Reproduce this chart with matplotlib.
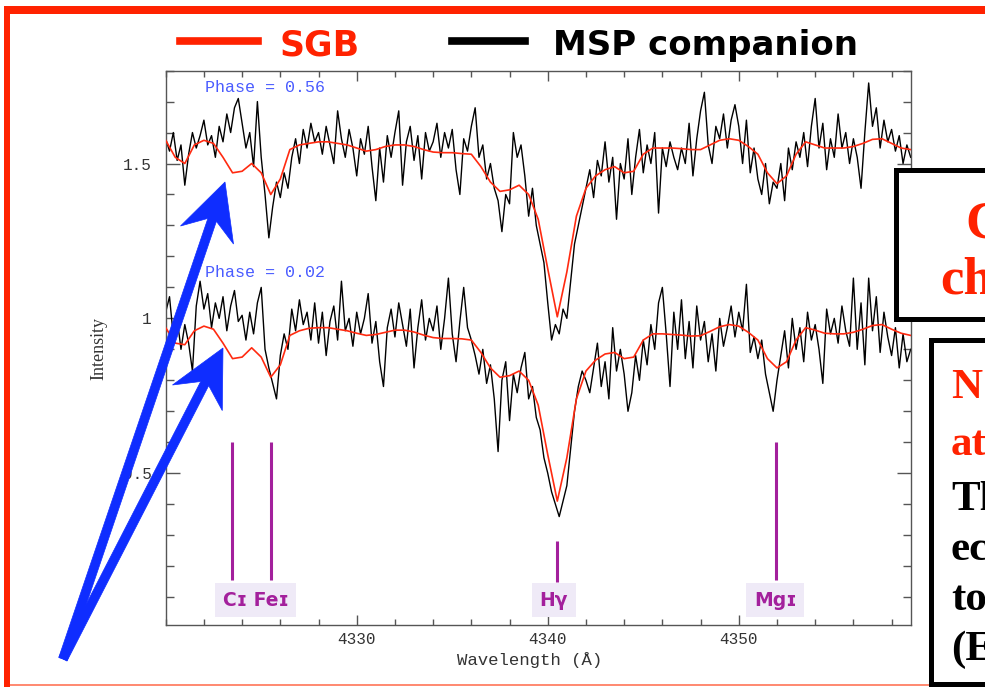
import numpy as np
import matplotlib
matplotlib.use("Agg")
import matplotlib.pyplot as plt
from matplotlib.patches import Rectangle, Polygon
from matplotlib.ticker import MultipleLocator, FixedLocator

W, H = 985, 687

# ---------------- data ----------------
# observed MSP companion spectra, sampled every 0.2 A from 4320.0 to 4359.0
wave_obs = np.round(np.arange(4320.0, 4359.01, 0.2), 1)

msp_phase056 = [
    1.58, 1.54, 1.60, 1.51, 1.56, 1.43, 1.53, 1.60, 1.55, 1.59,
    1.64, 1.56, 1.59, 1.52, 1.62, 1.57, 1.66, 1.60, 1.68, 1.71,
    1.63, 1.55, 1.60, 1.49, 1.70, 1.52, 1.40, 1.26, 1.36, 1.44,
    1.39, 1.47, 1.42, 1.52, 1.58, 1.50, 1.61, 1.55, 1.63, 1.57,
    1.60, 1.53, 1.62, 1.56, 1.50, 1.67, 1.58, 1.52, 1.61, 1.55,
    1.46, 1.58, 1.53, 1.62, 1.49, 1.38, 1.55, 1.44, 1.59, 1.52,
    1.60, 1.67, 1.43, 1.57, 1.62, 1.51, 1.59, 1.45, 1.60, 1.54,
    1.57, 1.63, 1.52, 1.60, 1.55, 1.61, 1.48, 1.40, 1.58, 1.54,
    1.62, 1.68, 1.52, 1.56, 1.45, 1.50, 1.42, 1.38, 1.28, 1.40,
    1.37, 1.60, 1.52, 1.56, 1.46, 1.33, 1.42, 1.30, 1.24, 1.18,
    1.05, 0.93, 0.98, 0.95, 1.03, 1.00, 1.12, 1.24, 1.30, 1.36,
    1.42, 1.48, 1.39, 1.51, 1.46, 1.57, 1.44, 1.52, 1.32, 1.50,
    1.45, 1.58, 1.40, 1.52, 1.61, 1.47, 1.56, 1.50, 1.60, 1.34,
    1.55, 1.49, 1.57, 1.52, 1.48, 1.55, 1.50, 1.63, 1.46, 1.58,
    1.67, 1.73, 1.56, 1.50, 1.62, 1.58, 1.66, 1.55, 1.64, 1.69,
    1.62, 1.50, 1.64, 1.47, 1.55, 1.45, 1.40, 1.50, 1.37, 1.44,
    1.42, 1.50, 1.38, 1.55, 1.48, 1.57, 1.52, 1.60, 1.49, 1.62,
    1.71, 1.55, 1.63, 1.48, 1.58, 1.52, 1.66, 1.55, 1.60, 1.50,
    1.58, 1.52, 1.42, 1.60, 1.76, 1.62, 1.68, 1.55, 1.64, 1.57,
    1.61, 1.54, 1.59, 1.50, 1.56, 1.52,
]

msp_phase002 = [
    1.02, 1.07, 0.94, 1.00, 0.90, 0.98, 0.92, 0.83, 1.04, 1.12,
    1.03, 1.08, 0.97, 1.05, 1.00, 1.07, 0.96, 1.04, 1.09, 0.99,
    1.01, 0.93, 1.02, 0.95, 1.05, 1.10, 0.90, 0.84, 0.79, 0.74,
    0.88, 0.95, 0.90, 1.03, 0.96, 1.06, 0.98, 1.02, 0.93, 1.05,
    0.92, 1.02, 0.88, 0.99, 1.04, 0.93, 1.12, 0.96, 1.00, 0.91,
    1.02, 0.95, 1.00, 1.08, 0.92, 0.99, 0.86, 0.78, 0.97, 1.03,
    0.94, 1.05, 0.98, 0.91, 1.03, 0.84, 0.97, 1.06, 0.93, 1.00,
    0.96, 1.04, 0.90, 1.00, 1.13, 0.95, 0.86, 0.99, 1.10, 0.97,
    0.93, 0.88, 0.82, 0.90, 0.79, 0.85, 0.74, 0.57, 0.80, 0.86,
    0.67, 0.82, 0.76, 0.84, 0.89, 0.74, 0.78, 0.68, 0.64, 0.55,
    0.50, 0.44, 0.40, 0.36, 0.41, 0.46, 0.58, 0.70, 0.78, 0.83,
    0.80, 0.76, 0.84, 0.92, 0.78, 0.86, 0.74, 0.97, 0.83, 0.90,
    0.82, 0.70, 0.76, 0.88, 0.80, 0.93, 0.85, 0.98, 0.90, 1.05,
    1.10, 0.95, 0.78, 1.02, 0.90, 1.06, 0.87, 0.99, 0.84, 1.04,
    0.93, 0.99, 0.86, 0.95, 0.83, 1.00, 0.91, 0.97, 1.04, 0.94,
    1.02, 0.96, 1.11, 0.89, 0.94, 0.87, 0.93, 0.82, 0.76, 0.70,
    0.80, 0.88, 0.96, 0.84, 1.00, 0.90, 0.97, 0.86, 1.02, 0.93,
    0.98, 0.90, 0.79, 1.03, 0.95, 1.00, 0.92, 1.04, 0.96, 0.91,
    1.13, 0.90, 1.05, 0.85, 1.13, 0.96, 1.07, 0.89, 1.02, 0.94,
    0.88, 0.97, 0.84, 0.95, 0.86, 0.90,
]

# SGB template spectra, sampled every 0.5 A from 4320.0 to 4359.0
wave_sgb = np.round(np.arange(4320.0, 4359.01, 0.5), 1)

sgb_phase056 = [
    1.575, 1.52, 1.50, 1.56, 1.575, 1.565, 1.52, 1.47, 1.475, 1.50,
    1.47, 1.40, 1.45, 1.545, 1.56, 1.565, 1.57, 1.57, 1.565, 1.56,
    1.55, 1.54, 1.545, 1.555, 1.56, 1.56, 1.555, 1.545, 1.537, 1.535,
    1.535, 1.532, 1.53, 1.49, 1.44, 1.41, 1.415, 1.43, 1.40, 1.32,
    1.16, 1.005, 1.15, 1.33, 1.42, 1.46, 1.48, 1.49, 1.47, 1.475,
    1.53, 1.55, 1.55, 1.55, 1.548, 1.545, 1.545, 1.56, 1.575, 1.58,
    1.575, 1.555, 1.53, 1.47, 1.435, 1.46, 1.53, 1.57, 1.56, 1.55,
    1.55, 1.55, 1.555, 1.565, 1.578, 1.58, 1.565, 1.55, 1.545,
]

sgb_phase002 = [
    0.97, 0.92, 0.915, 0.96, 0.975, 0.965, 0.92, 0.87, 0.875, 0.905,
    0.875, 0.81, 0.85, 0.945, 0.96, 0.968, 0.97, 0.97, 0.965, 0.96,
    0.952, 0.945, 0.948, 0.955, 0.962, 0.962, 0.956, 0.946, 0.938, 0.935,
    0.935, 0.934, 0.93, 0.89, 0.84, 0.81, 0.815, 0.83, 0.80, 0.72,
    0.56, 0.41, 0.55, 0.74, 0.83, 0.865, 0.885, 0.89, 0.87, 0.875,
    0.93, 0.95, 0.95, 0.948, 0.946, 0.943, 0.944, 0.958, 0.973, 0.98,
    0.975, 0.955, 0.93, 0.87, 0.84, 0.86, 0.93, 0.97, 0.962, 0.952,
    0.95, 0.95, 0.955, 0.965, 0.977, 0.98, 0.965, 0.952, 0.945,
]

phase_labels = ["Phase = 0.56", "Phase = 0.02"]

line_names = ["C\u026a", "Fe\u026a", "H\u03b3", "Mg\u026a"]
line_waves = [4323.45, 4325.5, 4340.47, 4351.95]

x_major_ticks = [4330, 4340, 4350]
y_major_ticks = [0.5, 1.0, 1.5]
y_tick_labels = ["0.5", "1", "1.5"]

# ---------------- figure ----------------
fig = plt.figure(figsize=(W / 100, H / 100), dpi=100)
fig.patch.set_facecolor("white")


def fx(px):
    return px / W


def fy(py):
    return 1 - py / H


ax_l, ax_r, ax_t, ax_b = 165.7, 910.7, 70.6, 625.0
ax = fig.add_axes([fx(ax_l), fy(ax_b), (ax_r - ax_l) / W, (ax_b - ax_t) / H])
ax.set_xlim(4320, 4359)
ax.set_ylim(0.01, 1.8)

purple = "#A3209C"
spec_red = "#FF2A10"

ax.plot(wave_obs, msp_phase056, color="black", lw=1.0, zorder=2)
ax.plot(wave_obs, msp_phase002, color="black", lw=1.0, zorder=2)
ax.plot(wave_sgb, sgb_phase056, color=spec_red, lw=1.2, zorder=3)
ax.plot(wave_sgb, sgb_phase002, color=spec_red, lw=1.2, zorder=3)

# line identification markers
ax.vlines(line_waves[0], 0.154, 0.600, color=purple, lw=2.2)
ax.vlines(line_waves[1], 0.154, 0.600, color=purple, lw=2.2)
ax.vlines(line_waves[2], 0.150, 0.280, color=purple, lw=2.2)
ax.vlines(line_waves[3], 0.154, 0.600, color=purple, lw=2.2)

lab_kw = dict(color=purple, fontsize=13.5, fontweight="bold", family="DejaVu Sans",
              ha="center", va="center")
box_col = "#EFEAF7"
ax.text(4324.7, 0.090, line_names[0] + " " + line_names[1],
        bbox=dict(boxstyle="square,pad=0.4", fc=box_col, ec="none"), **lab_kw)
ax.text(line_waves[2] - 0.15, 0.090, line_names[2],
        bbox=dict(boxstyle="square,pad=0.4", fc=box_col, ec="none"), **lab_kw)
ax.text(line_waves[3] - 0.05, 0.090, line_names[3],
        bbox=dict(boxstyle="square,pad=0.4", fc=box_col, ec="none"), **lab_kw)

# phase labels
ax.text(4322.06, 1.747, phase_labels[0], color="#4A5CFF", fontsize=12,
        family="Liberation Mono", ha="left", va="center")
ax.text(4322.06, 1.149, phase_labels[1], color="#4A5CFF", fontsize=12,
        family="Liberation Mono", ha="left", va="center")

# axes styling
for s in ax.spines.values():
    s.set_color("#555555")
    s.set_linewidth(1.0)
ax.xaxis.set_major_locator(FixedLocator(x_major_ticks))
ax.xaxis.set_minor_locator(MultipleLocator(2))
ax.yaxis.set_major_locator(FixedLocator(y_major_ticks))
ax.set_yticklabels(y_tick_labels)
ax.yaxis.set_minor_locator(MultipleLocator(0.1))
ax.tick_params(axis="x", which="major", direction="in", length=7, width=1,
               top=True, bottom=True, color="#555555", pad=5,
               labelsize=11.5, labelcolor="#333333")
ax.tick_params(axis="x", which="minor", direction="in", length=4, width=1,
               top=True, bottom=True, color="#555555")
ax.tick_params(axis="y", which="major", direction="in", length=10, width=1,
               left=True, right=True, color="#555555", pad=10,
               labelsize=11.5, labelcolor="#333333")
ax.tick_params(axis="y", which="minor", direction="in", length=5.5, width=1,
               left=True, right=True, color="#555555")
for lab in ax.get_xticklabels() + ax.get_yticklabels():
    lab.set_fontfamily("Liberation Mono")

fig.text(fx(530), fy(660), "Wavelength (\u00c5)", family="Liberation Mono",
         fontsize=12.5, color="#333333", ha="center", va="center")
fig.text(fx(99), fy(348), "Intensity", family="Liberation Serif",
         fontsize=13, color="#333333", ha="center", va="center", rotation=90)

# ---------------- slide decorations ----------------
red = "#FF2200"
fig.add_artist(Rectangle((fx(4), fy(14)), (W - 4) / W, 8 / H, transform=fig.transFigure,
                         fc=red, ec="none", zorder=5))
fig.add_artist(Rectangle((fx(4), fy(H)), 6 / W, (H - 6) / H, transform=fig.transFigure,
                         fc=red, ec="none", zorder=5))
fig.add_artist(Rectangle((fx(10), fy(686)), 920 / W, 2 / H, transform=fig.transFigure,
                         fc="#FF8B73", ec="none", zorder=5))

# legend
fig.add_artist(plt.Line2D([fx(180), fx(258)], [fy(41), fy(41)], color=red, lw=5.5,
                          transform=fig.transFigure, zorder=5))
fig.add_artist(plt.Line2D([fx(452), fx(525)], [fy(41), fy(41)], color="black", lw=5.5,
                          transform=fig.transFigure, zorder=5))
fig.text(fx(280), fy(45), "SGB", color=red, fontsize=25, fontweight="bold",
         family="DejaVu Sans", ha="left", va="center", zorder=6)
fig.text(fx(553), fy(45), "MSP companion", color="black", fontsize=24.5, fontweight="bold",
         family="DejaVu Sans", ha="left", va="center", zorder=6)

# right-hand text boxes (cut off by the slide edge)
bw = 3.6
fig.add_artist(Rectangle((fx(895.5), fy(319.5)), (1010 - 895.5) / W, (319.5 - 170.5) / H,
                         transform=fig.transFigure, fc="white", ec="black", lw=bw, zorder=7))
fig.add_artist(Rectangle((fx(930.5), fy(684)), (1010 - 930.5) / W, (684 - 340) / H,
                         transform=fig.transFigure, fc="white", ec="black", lw=bw, zorder=7))
serif_kw = dict(family="Liberation Serif", fontweight="bold", ha="left",
                va="baseline", zorder=8)
fig.text(fx(965), fy(237), "C", color=red, fontsize=38, **serif_kw)
fig.text(fx(940), fy(293), "ch", color=red, fontsize=38, **serif_kw)
box2_lines = [("N", red, 398), ("at", red, 455), ("Th", "black", 510),
              ("ec", "black", 560), ("to", "black", 610), ("(E", "black", 660)]
for txt, col, base in box2_lines:
    fig.text(fx(951), fy(base), txt, color=col, fontsize=31, **serif_kw)


# blue arrows
def arrow_poly(tail, tip, head_len=56, head_half=28, notch=40, shaft_half=4.5):
    t = np.array(tail, float)
    p = np.array(tip, float)
    d = p - t
    u = d / np.hypot(*d)
    n = np.array([-u[1], u[0]])
    b = p - u * notch
    w = p - u * head_len
    pts = [t + n * shaft_half, b + n * shaft_half, w + n * head_half, p,
           w - n * head_half, b - n * shaft_half, t - n * shaft_half]
    return [(fx(q[0]), fy(q[1])) for q in pts]


blue = "#0F2DFF"
for tip in [(225, 182), (223, 348)]:
    fig.add_artist(Polygon(arrow_poly((63, 659), tip), closed=True, transform=fig.transFigure,
                           fc=blue, ec=blue, lw=0.5, zorder=10))

fig.savefig("out.png", dpi=100)
